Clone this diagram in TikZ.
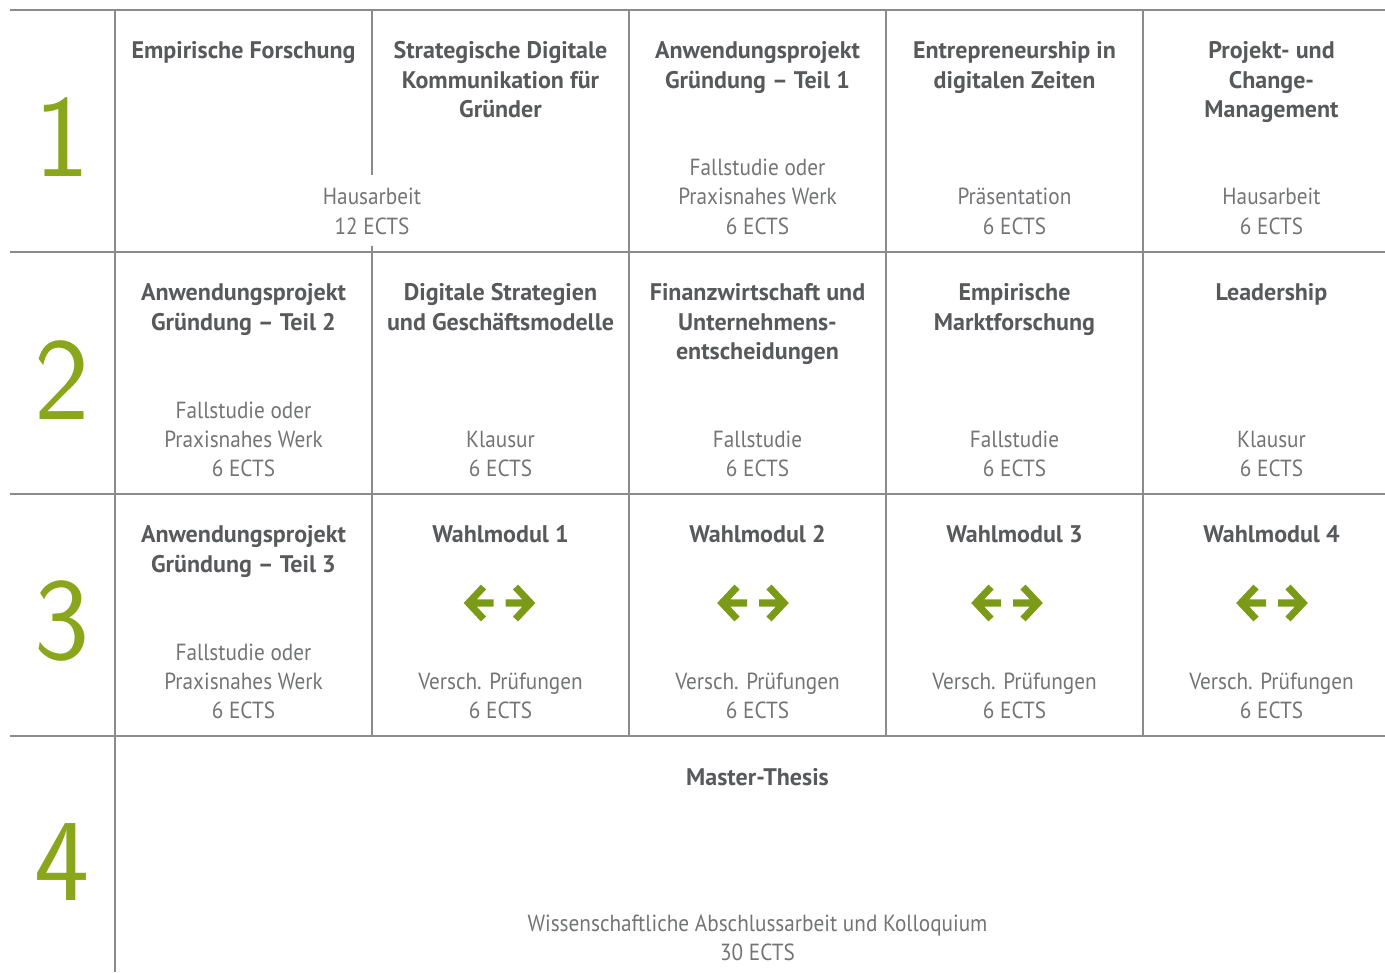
\documentclass[tikz,border=0pt]{standalone}
\usepackage{fontspec}
\setmainfont{PT Sans}[FakeStretch=0.91]
\newfontfamily\titlefont{PT Sans}[FakeStretch=1.0]

\definecolor{gridgray}{HTML}{8A8B8D}
\definecolor{titlegray}{HTML}{58595B}
\definecolor{textgray}{HTML}{737476}
\definecolor{hsgreen}{HTML}{8AA61C}
\definecolor{arrowgreen}{HTML}{7B9B18}

\tikzset{
  modtitle/.style={anchor=north, align=center, inner sep=0pt, text=titlegray,
    font=\titlefont\bfseries\fontsize{18}{22.1}\selectfont},
  modexam/.style={anchor=south, align=center, inner sep=0pt, text=textgray,
    font=\fontsize{17.5}{22.1}\selectfont},
  semnum/.style={inner sep=0pt, text=hsgreen, font=\sffamily\fontsize{88}{88}\selectfont},
  gridline/.style={draw=gridgray, line width=1.4pt},
  wahlpfeile/.pic={
    \draw[arrowgreen, line width=5.3pt, line join=miter, line cap=butt]
      (-16,-16) -- (-31,0) -- (-16,16) (-30,0) -- (-6,0)
      (16,-16) -- (31,0) -- (16,16) (30,0) -- (6,0);
  }
}

\begin{document}
\begin{tikzpicture}[x=0.75pt,y=-0.75pt]
  \useasboundingbox (0,0) rectangle (1385,972);

  % Raster
  \foreach \y in {10,252,494,736}
    \draw[gridline] (10,\y) -- (1385,\y);
  \draw[gridline] (115,10) -- (115,972);
  \foreach \x in {629,886,1143}
    \draw[gridline] (\x,10) -- (\x,736);
  \draw[gridline] (372,10) -- (372,175);
  \draw[gridline] (372,246) -- (372,736);

  % Semester
  \foreach \n/\y in {1/137,2/380,3/621,4/862}
    \node[semnum] (s\n) at (62,\y) {\n};

  % 1. Semester
  \node[modtitle] (t11) at (243.5,41.5) {Empirische Forschung};
  \node[modtitle] (t12) at (500.5,41.5) {Strategische Digitale\\Kommunikation für\\Gründer};
  \node[modtitle] (t13) at (757.5,41.5) {Anwendungsprojekt\\Gründung – Teil 1};
  \node[modtitle] (t14) at (1014.5,41.5) {Entrepreneurship in\\digitalen Zeiten};
  \node[modtitle] (t15) at (1271.5,41.5) {Projekt- und\\Change-\\Management};
  \node[modexam] (e11) at (372,235) {Hausarbeit\\12 ECTS};
  \node[modexam] (e13) at (757.5,235) {Fallstudie oder\\Praxisnahes Werk\\6 ECTS};
  \node[modexam] (e14) at (1014.5,235) {Präsentation\\6 ECTS};
  \node[modexam] (e15) at (1271.5,235) {Hausarbeit\\6 ECTS};

  % 2. Semester
  \node[modtitle] (t21) at (243.5,283.5) {Anwendungsprojekt\\Gründung – Teil 2};
  \node[modtitle] (t22) at (500.5,283.5) {Digitale Strategien\\und Geschäftsmodelle};
  \node[modtitle] (t23) at (757.5,283.5) {Finanzwirtschaft und\\Unternehmens-\\entscheidungen};
  \node[modtitle] (t24) at (1014.5,283.5) {Empirische\\Marktforschung};
  \node[modtitle] (t25) at (1271.5,283.5) {Leadership};
  \node[modexam] (e21) at (243.5,477.5) {Fallstudie oder\\Praxisnahes Werk\\6 ECTS};
  \node[modexam] (e22) at (500.5,477.5) {Klausur\\6 ECTS};
  \node[modexam] (e23) at (757.5,477.5) {Fallstudie\\6 ECTS};
  \node[modexam] (e24) at (1014.5,477.5) {Fallstudie\\6 ECTS};
  \node[modexam] (e25) at (1271.5,477.5) {Klausur\\6 ECTS};

  % 3. Semester
  \node[modtitle] (t31) at (243.5,525.5) {Anwendungsprojekt\\Gründung – Teil 3};
  \node[modexam] (e31) at (243.5,719.5) {Fallstudie oder\\Praxisnahes Werk\\6 ECTS};
  \foreach \i/\x/\ax in {1/500.5/499.5,2/757.5/753,3/1014.5/1007,4/1271.5/1272} {
    \node[modtitle] (w\i) at (\x,525.5) {Wahlmodul \i};
    \pic at (\ax,603) {wahlpfeile};
    \node[modexam] (v\i) at (\x,719.5) {Versch. Prüfungen\\6 ECTS};
  }

  % 4. Semester
  \node[modtitle] (t41) at (757.5,768) {Master-Thesis};
  \node[modexam] (e41) at (757.5,961.5) {Wissenschaftliche Abschlussarbeit und Kolloquium\\30 ECTS};
\end{tikzpicture}
\end{document}
